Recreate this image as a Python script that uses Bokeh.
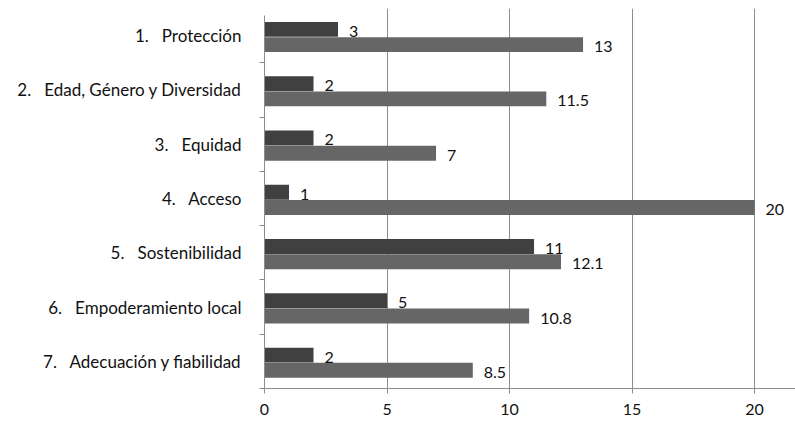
from bokeh.plotting import figure
from bokeh.models import Range1d, FixedTicker, ColumnDataSource
from bokeh.core.properties import value
from bokeh.embed import file_html
from bokeh.resources import INLINE

NB = "\u00a0"
categories = ["1.", "2.", "3.", "4.", "5.", "6.", "7."]
names = ["Protección", "Edad, Género y Diversidad", "Equidad", "Acceso",
         "Sostenibilidad", "Empoderamiento local", "Adecuación y fiabilidad"]
series_a = [3, 2, 2, 1, 11, 5, 2]
series_b = [13, 11.5, 7, 20, 12.1, 10.8, 8.5]
x_ticks = [0, 5, 10, 15, 20]

labels = [c + NB * 3 + n for c, n in zip(categories, names)]
n = len(labels)
centers = [n - i - 0.5 for i in range(n)]

FONT = "Lato"
DARK = "#404040"
LIGHT = "#666666"
GRID = "#8c8c8c"
TXT = "#111111"

p = figure(width=795, height=422, output_backend="svg", toolbar_location=None,
           x_range=Range1d(0, 21.67), y_range=Range1d(0, n),
           min_border_left=264, min_border_right=0, min_border_top=8,
           min_border_bottom=34, outline_line_color=None)
p.background_fill_color = "white"

bh = 0.275
off = 0.14
shift = -0.025
src = ColumnDataSource(dict(
    ya=[c + off + shift for c in centers],
    yb=[c - off + shift for c in centers],
    a=series_a, b=series_b,
    la=[f"{v:g}" for v in series_a],
    lb=[f"{v:g}" for v in series_b],
))

p.hbar(y="ya", left=0, right="a", height=bh, source=src, fill_color=DARK, line_color=None)
p.hbar(y="yb", left=0, right="b", height=bh, source=src, fill_color=LIGHT, line_color=None)

for xcol, ycol, tcol in (("a", "ya", "la"), ("b", "yb", "lb")):
    p.text(x=xcol, y=ycol, text=tcol, source=src, x_offset=11, y_offset=2,
           text_font=value(FONT), text_font_size="16px", text_color=TXT,
           text_baseline="middle", text_align="left")

# x axis
p.xaxis.ticker = FixedTicker(ticks=x_ticks)
p.xaxis.axis_line_color = GRID
p.xaxis.major_tick_line_color = GRID
p.xaxis.major_tick_out = 5
p.xaxis.major_tick_in = 0
p.xaxis.minor_tick_line_color = None
p.xaxis.major_label_text_font = FONT
p.xaxis.major_label_text_font_size = "16px"
p.xaxis.major_label_text_color = TXT
p.xaxis.major_label_standoff = 10

# y axis
p.yaxis.ticker = FixedTicker(ticks=centers, minor_ticks=list(range(0, n)))
p.yaxis.bounds = (0, n - 0.13)
p.yaxis.major_label_overrides = {c: l for c, l in zip(centers, labels)}
p.yaxis.axis_line_color = GRID
p.yaxis.major_tick_line_color = None
p.yaxis.major_tick_out = 0
p.yaxis.major_tick_in = 0
p.yaxis.minor_tick_line_color = GRID
p.yaxis.minor_tick_out = 5
p.yaxis.minor_tick_in = 0
p.yaxis.major_label_text_font = FONT
p.yaxis.major_label_text_font_size = "17px"
p.yaxis.major_label_text_color = TXT
p.yaxis.major_label_standoff = 18

p.xgrid.ticker = FixedTicker(ticks=x_ticks[1:])
p.xgrid.bounds = (0, 25)
p.xgrid.grid_line_color = GRID
p.ygrid.grid_line_color = None

open("out.html", "w").write(file_html(p, INLINE))
